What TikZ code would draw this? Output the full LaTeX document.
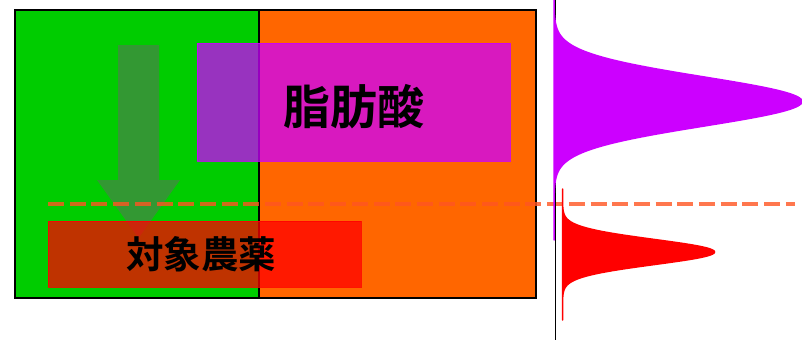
\documentclass[tikz,border=0pt]{standalone}
\usepackage{fontspec}
\newfontfamily\cjkb{Noto Sans CJK JP Bold}
\definecolor{grn}{HTML}{00CC00}
\definecolor{org}{HTML}{FF6600}
\definecolor{mag}{HTML}{CC00FF}
\definecolor{dsh}{HTML}{FF5522}
\definecolor{arr}{HTML}{666666}
\tikzset{
  boxline/.style={draw=black, line width=2pt},
  band/.style={line width=1.5pt},
  lbl/.style={font=\cjkb, text=black, inner sep=0pt},
}
\begin{document}
\begin{tikzpicture}[x=1pt,y=-1pt]
\useasboundingbox (0,0) rectangle (802,340);
% column fills
\fill[grn] (15,10) rectangle (259,298);
\fill[org] (259,10) rectangle (536,298);
\draw[black, line width=2pt] (259,10) -- (259,298);
\draw[boxline] (15,10) rectangle (536,298);
% arrow
\fill[arr, opacity=0.5] (118,45) -- (159,45) -- (159,180) -- (180,180) -- (138.5,238) -- (97,180) -- (118,180) -- cycle;
% boxes
\node[draw=mag, fill=mag, fill opacity=0.75, draw opacity=0.8, line width=1pt, minimum width=313pt, minimum height=118pt, inner sep=0pt] (fa) at (353.5,102) {};
\node[draw=red, fill=red, fill opacity=0.75, draw opacity=0.8, line width=1pt, minimum width=313pt, minimum height=66pt, inner sep=0pt] (pe) at (204.5,254) {};
% dashed line
\coordinate (d1) at (48,204);
\coordinate (d2) at (795,204);
\draw[dsh, opacity=0.8, line width=4pt, dash pattern=on 16pt off 5.7pt] (d1) -- (d2);
% labels
\node[lbl, font=\cjkb\fontsize{47}{47}\selectfont] (tfa) at (354,107) {脂肪酸};
\node[lbl, font=\cjkb\fontsize{37.5}{37.5}\selectfont] (tpe) at (201,254) {対象農薬};
% axis
\coordinate (a1) at (555.5,0);
\coordinate (a2) at (555.5,340);
\draw[black, line width=1.5pt] (a1) -- (a2);
% peaks
\filldraw[mag, band, line join=round] plot[domain=0:240, samples=241, variable=\t] ({554+248*exp(-0.5*((\t-101.5)/24.5)*((\t-101.5)/24.5))}, {\t}) -- cycle;
\filldraw[red, band, line join=round] plot[domain=189:320, samples=200, variable=\t] ({562.5+152*exp(-0.5*((\t-252)/12.5)*((\t-252)/12.5))}, {\t}) -- cycle;
\end{tikzpicture}
\end{document}
